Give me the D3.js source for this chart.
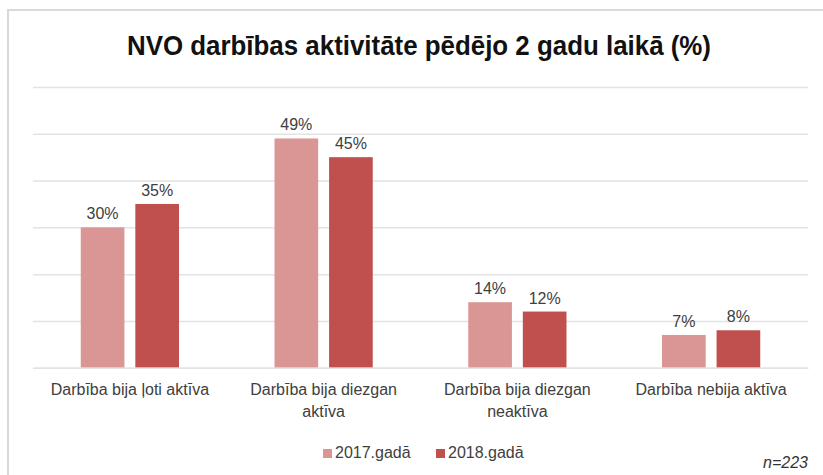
<!DOCTYPE html>
<html>
<head>
<meta charset="utf-8">
<script src="https://cdn.jsdelivr.net/npm/d3@7"></script>
<style>
  body { margin: 0; background: #fff; }
  text { font-family: "Liberation Sans", Arial, sans-serif; }
</style>
</head>
<body>
<script>
const categories = ["Darbība bija ļoti aktīva", "Darbība bija diezgan aktīva", "Darbība bija diezgan neaktīva", "Darbība nebija aktīva"];
const seriesNames = ["2017.gadā", "2018.gadā"];
const values2017 = [30, 49, 14, 7];
const values2018 = [35, 45, 12, 8];
const yTicks = [0, 10, 20, 30, 40, 50, 60];

const colors = ["#d99694", "#c0504d"];
const width = 823, height = 475;
const margin = { top: 87, left: 33, right: 15, bottom: 107 };

const svg = d3.select("body").append("svg")
  .attr("width", width)
  .attr("height", height);

// chart frame (only top and left edges are visible)
svg.append("path")
  .attr("d", "M8,475 L8,10 L823,10")
  .attr("fill", "none")
  .attr("stroke", "#d9d9d9")
  .attr("stroke-width", 2);

svg.append("text")
  .attr("x", 419)
  .attr("y", 55)
  .attr("text-anchor", "middle")
  .attr("font-size", 27)
  .attr("font-weight", "bold")
  .attr("fill", "#111")
  .attr("textLength", 584)
  .attr("lengthAdjust", "spacingAndGlyphs")
  .text("NVO darbības aktivitāte pēdējo 2 gadu laikā (%)");

const x0 = d3.scaleBand()
  .domain(categories)
  .range([margin.left, width - margin.right])
  .paddingInner(0.493)
  .paddingOuter(0.2465);

const x1 = d3.scaleBand()
  .domain(seriesNames)
  .range([0, x0.bandwidth()])
  .paddingInner(0.2);

const y = d3.scaleLinear()
  .domain([0, 60])
  .range([height - margin.bottom - 0.3, margin.top]);

// gridlines
const grid = svg.append("g")
  .attr("transform", `translate(${margin.left},0)`)
  .call(d3.axisLeft(y).tickValues(yTicks).tickSize(-(width - margin.left - margin.right)).tickFormat(""));
grid.select(".domain").remove();
grid.selectAll("line").attr("stroke", "#e3e3e3").attr("stroke-width", 1.5);

const rows = categories.map((c, i) => ({ cat: c, vals: [values2017[i], values2018[i]] }));

const groups = svg.append("g").selectAll("g")
  .data(rows)
  .enter().append("g")
  .attr("transform", d => `translate(${x0(d.cat)},0)`);

groups.selectAll("rect")
  .data(d => d.vals.map((v, k) => ({ name: seriesNames[k], v, k })))
  .enter().append("rect")
  .attr("x", d => x1(d.name))
  .attr("y", d => y(d.v))
  .attr("width", x1.bandwidth())
  .attr("height", d => y(0) - y(d.v))
  .attr("fill", d => colors[d.k]);

groups.selectAll("text")
  .data(d => d.vals.map((v, k) => ({ name: seriesNames[k], v, k })))
  .enter().append("text")
  .attr("x", d => x1(d.name) + x1.bandwidth() / 2)
  .attr("y", d => y(d.v) - 8)
  .attr("text-anchor", "middle")
  .attr("font-size", 16)
  .attr("fill", "#404040")
  .text(d => d.v + "%");

// category axis
const xAxis = svg.append("g")
  .attr("transform", `translate(0,${y(0)})`)
  .call(d3.axisBottom(x0).tickSize(0).tickPadding(0));
xAxis.select(".domain").attr("stroke", "#e3e3e3").attr("stroke-width", 1.5);
xAxis.selectAll("text")
  .attr("font-size", 16)
  .attr("fill", "#404040")
  .attr("font-family", "Liberation Sans, Arial, sans-serif")
  .attr("y", 27)
  .attr("dy", 0)
  .call(wrap, 180);

function wrap(sel, maxW) {
  sel.each(function () {
    const t = d3.select(this);
    const words = t.text().split(" ");
    t.text(null);
    let line = [];
    let tspan = t.append("tspan").attr("x", 0).attr("y", 27);
    let n = 0;
    words.forEach(w => {
      line.push(w);
      tspan.text(line.join(" "));
      if (tspan.node().getComputedTextLength() > maxW && line.length > 1) {
        line.pop();
        tspan.text(line.join(" "));
        line = [w];
        n++;
        tspan = t.append("tspan").attr("x", 0).attr("y", 27 + n * 22).text(w);
      }
    });
  });
}

// legend
const legendX = [323, 436];
const legend = svg.append("g").selectAll("g")
  .data(seriesNames)
  .enter().append("g")
  .attr("transform", (d, i) => `translate(${legendX[i]},449)`);
legend.append("rect")
  .attr("width", 9)
  .attr("height", 9)
  .attr("fill", (d, i) => colors[i]);
legend.append("text")
  .attr("x", 12)
  .attr("y", 9)
  .attr("font-size", 16)
  .attr("fill", "#404040")
  .text(d => d);

svg.append("text")
  .attr("x", 808)
  .attr("y", 468)
  .attr("text-anchor", "end")
  .attr("font-size", 16)
  .attr("font-style", "italic")
  .attr("fill", "#333")
  .text("n=223");
</script>
</body>
</html>
